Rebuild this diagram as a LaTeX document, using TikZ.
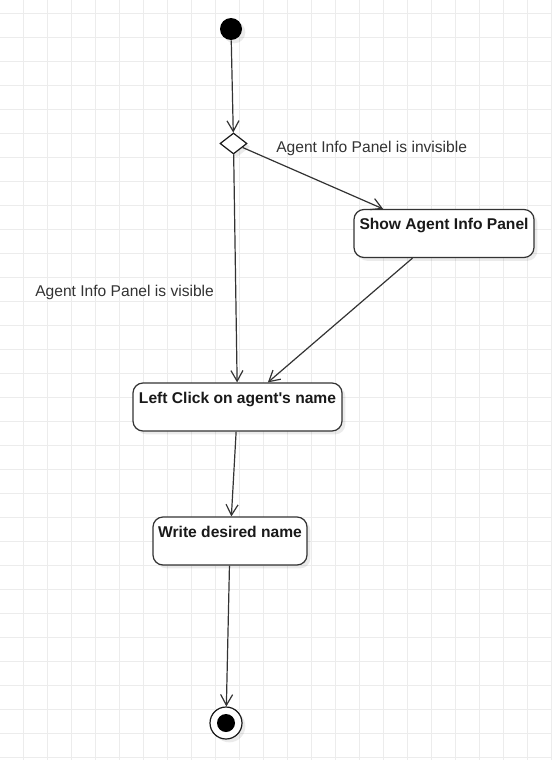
\documentclass[tikz,border=0pt]{standalone}
\usepackage{fontspec}
\setmainfont{Liberation Sans}
\usetikzlibrary{arrows.meta,shapes.geometric,shadows}
\definecolor{linec}{RGB}{51,51,51}
\definecolor{gridc}{RGB}{236,236,236}
\begin{document}
\begin{tikzpicture}[x=0.75pt,y=-0.75pt,
        font=\fontsize{11.7pt}{14pt}\selectfont,
        shade/.style={drop shadow={shadow xshift=2.5pt,shadow yshift=-2.5pt,opacity=0.08,fill=black}},
        flow/.style={draw=linec,line width=0.9pt,-{Straight Barb[length=8pt,width=9pt]}},
        action/.style={draw=linec,line width=0.9pt,fill=white,shade,rounded corners=7.5pt,
            inner xsep=0pt,inner ysep=0pt,text height=15.3pt,text depth=20.7pt,
            minimum width=#1,font=\fontsize{11.7pt}{14pt}\selectfont\bfseries,text=black!90},
        startstate/.style={circle,fill=black,shade,minimum size=16.5pt,inner sep=0pt},
        endstate/.style={circle,draw=black!90,line width=0.9pt,fill=white,shade,minimum size=24pt,inner sep=0pt},
        decision/.style={diamond,draw=black!90,line width=0.9pt,fill=white,shade,
            minimum width=20.25pt,minimum height=15.75pt,inner sep=0pt},
        guard/.style={anchor=west,inner sep=0pt,text=linec}]
    \def\gw{551} \def\gh{760}
    \useasboundingbox (0,0) rectangle (\gw,\gh);
    \fill[white] (0,0) rectangle (\gw,\gh);
    \foreach \gx in {0,...,22} \draw[gridc,line width=0.75pt] ({23.5+24*\gx},0) -- ({23.5+24*\gx},\gh);
    \foreach \gy in {0,...,31} \draw[gridc,line width=0.75pt] (0,{13.3+24*\gy}) -- (\gw,{13.3+24*\gy});
    % states
    \node[startstate] (start) at (231,29) {};
    \node[decision] (dec) at (233.5,143.5) {};
    \node[action=135pt] (show) at (444,233.5) {Show Agent Info Panel};
    \node[action=156.75pt] (click) at (237.5,407) {Left Click on agent\textquotesingle s name};
    \node[action=115.5pt] (write) at (230,541) {Write desired name};
    \node[endstate] (stop) at (226,723) {};
    \fill[black] (stop) circle (6.75pt);
    % guards
    \node[guard] (invis) at (276,148) {Agent Info Panel is invisible};
    \node[guard] (vis) at (35,292) {Agent Info Panel is visible};
    % flows
    \draw[flow] (start) -- (dec);
    \draw[flow] (dec) -- (show.158);
    \draw[flow] (dec) -- (click);
    \draw[flow] (show.218) -- (click.39);
    \draw[flow] (click) -- (write);
    \draw[flow] (write) -- (stop);
\end{tikzpicture}
\end{document}
